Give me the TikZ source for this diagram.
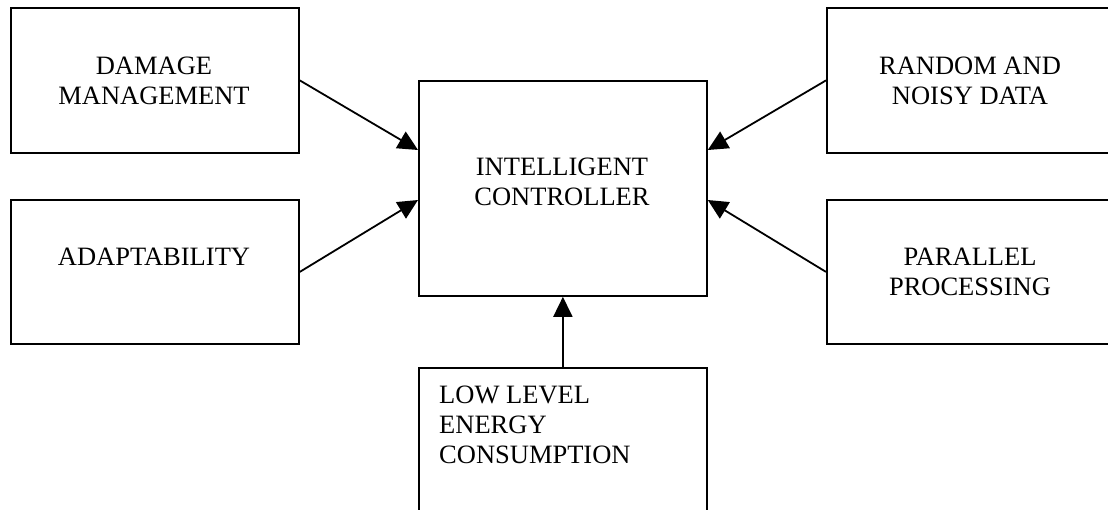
\documentclass[tikz,border=0pt]{standalone}
\usepackage{fontspec}
\setmainfont{Liberation Serif}
\usetikzlibrary{arrows.meta}
\tikzset{
  box/.style={draw, line width=1.8pt, minimum width=288pt, inner sep=0pt, anchor=north west},
  lbl/.style={inner sep=0pt, anchor=north, align=center, font=\fontsize{26.5}{30}\selectfont},
  lblleft/.style={inner sep=0pt, anchor=north west, align=left, font=\fontsize{26.5}{30}\selectfont},
  conn/.style={line width=1.8pt, -{Triangle[length=20pt,width=19pt]}}
}
\begin{document}
\begin{tikzpicture}[x=1pt,y=-1pt]
\useasboundingbox (0,0) rectangle (1108,509);
\clip (0,0) rectangle (1108,509);
% boxes
\node[box, minimum height=145pt] (dm) at (10,7) {};
\node[box, minimum height=144pt] (ad) at (10,199) {};
\node[box, minimum height=145pt] (rn) at (826,7) {};
\node[box, minimum height=144pt] (pp) at (826,199) {};
\node[box, minimum height=215pt] (ic) at (418,80) {};
\node[box, minimum height=200pt] (le) at (418,367) {};
% labels
\node[lbl] (dmt) at (154,57) {DAMAGE\\MANAGEMENT};
\node[lbl] (adt) at (154,248) {ADAPTABILITY};
\node[lbl] (rnt) at (970,57) {RANDOM AND\\NOISY DATA};
\node[lbl] (ppt) at (970,248) {PARALLEL\\PROCESSING};
\node[lbl] (ict) at (562,158) {INTELLIGENT\\CONTROLLER};
\node[lblleft] (let) at (439,386) {LOW LEVEL\\ENERGY\\CONSUMPTION};
% anchor points on the controller
\coordinate (icl1) at ([yshift=-70pt]ic.north west);
\coordinate (icl2) at ([yshift=-120pt]ic.north west);
\coordinate (icr1) at ([yshift=-70pt]ic.north east);
\coordinate (icr2) at ([yshift=-120pt]ic.north east);
% connectors
\draw[conn] (dm.east) -- (icl1);
\draw[conn] (ad.east) -- (icl2);
\draw[conn] (rn.west) -- (icr1);
\draw[conn] (pp.west) -- (icr2);
\draw[conn] (le.north) -- (ic.south);
\end{tikzpicture}
\end{document}
